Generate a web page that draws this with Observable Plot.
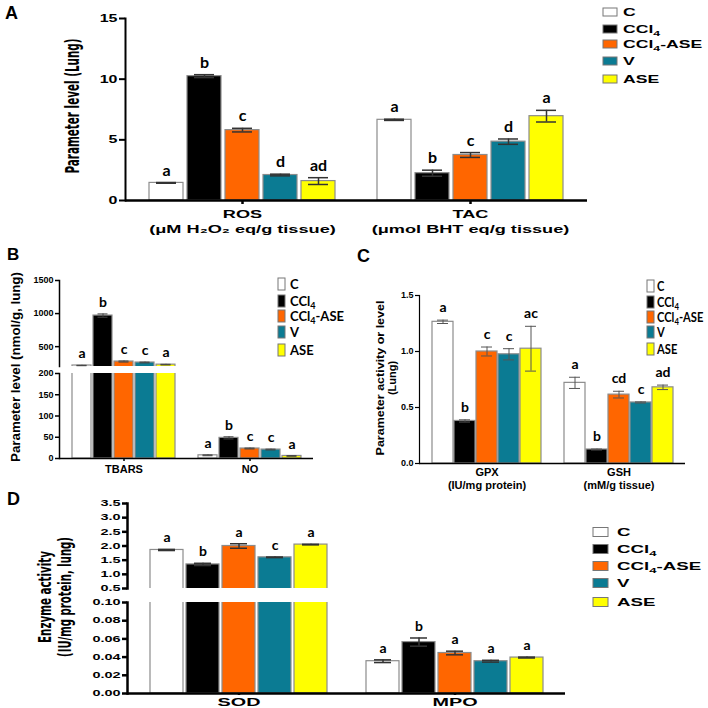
<!DOCTYPE html>
<html><head><meta charset="utf-8">
<script src="https://cdn.jsdelivr.net/npm/d3@7"></script>
<script src="https://cdn.jsdelivr.net/npm/@observablehq/plot@0.6"></script>
<style>
html,body{margin:0;padding:0;background:#fff;}
#root{position:relative;width:708px;height:708px;overflow:hidden;background:#fff;}
.panel{position:absolute;}
.panel svg{background:transparent !important;overflow:visible;}
#overlay{position:absolute;left:0;top:0;pointer-events:none;}
</style></head><body><div id="root"></div>
<script>
// ---------- data ----------
const groups = ["C", "CCl₄", "CCl₄-ASE", "V", "ASE"];
const groupColors = ["#ffffff", "#000000", "#ff6600", "#0b7b93", "#ffff00"];

// Panel A
const aParams = ["ROS", "TAC"];
const aParamLabels = ["ROS\n(μM H₂O₂ eq/g tissue)", "TAC\n(μmol BHT eq/g tissue)"];
const aROS = [1.45, 10.25, 5.8, 2.1, 1.6];
const aROSerr = [0.03, 0.12, 0.15, 0.07, 0.28];
const aROSlet = ["a", "b", "c", "d", "ad"];
const aTAC = [6.65, 2.25, 3.75, 4.85, 6.95];
const aTACerr = [0.05, 0.25, 0.2, 0.22, 0.48];
const aTAClet = ["a", "b", "c", "d", "a"];
const aTicks = [0, 5, 10, 15];

// Panel B (broken axis)
const bParams = ["TBARS", "NO"];
const bParamLabels = ["TBARS", "NO"];
const bTBARS = [215, 970, 275, 260, 228];
const bTBARSerr = [3, 25, 8, 6, 5];
const bTBARSlet = ["a", "b", "c", "c", "a"];
const bNO = [7.5, 48.5, 23.5, 21, 6];
const bNOerr = [1, 2.5, 1, 1, 0.8];
const bNOlet = ["a", "b", "c", "c", "a"];
const bUpperTicks = [500, 1000, 1500];
const bLowerTicks = [0, 50, 100, 150, 200];

// Panel C
const cParams = ["GPX", "GSH"];
const cParamLabels = ["GPX\n(IU/mg protein)", "GSH\n(mM/g tissue)"];
const cGPX = [1.265, 0.38, 1.0, 0.975, 1.025];
const cGPXerr = [0.015, 0.01, 0.04, 0.05, 0.2];
const cGPXlet = ["a", "b", "c", "c", "ac"];
const cGSH = [0.72, 0.125, 0.615, 0.545, 0.68];
const cGSHerr = [0.05, 0.004, 0.03, 0.005, 0.02];
const cGSHlet = ["a", "b", "cd", "c", "ad"];
const cTicks = [0, 0.5, 1.0, 1.5];

// Panel D (broken axis)
const dParams = ["SOD", "MPO"];
const dParamLabels = ["SOD", "MPO"];
const dSOD = [1.86, 1.35, 2.0, 1.6, 2.05];
const dSODerr = [0.02, 0.04, 0.08, 0.01, 0.01];
const dSODlet = ["a", "b", "a", "c", "a"];
const dMPO = [0.0355, 0.0565, 0.0445, 0.0355, 0.0395];
const dMPOerr = [0.0015, 0.0045, 0.002, 0.001, 0.0005];
const dMPOlet = ["a", "b", "a", "a", "a"];
const dUpperTicks = [0.5, 1.0, 1.5, 2.0, 2.5, 3.0, 3.5];
const dLowerTicks = [0, 0.02, 0.04, 0.06, 0.08, 0.10];

// ---------- helpers ----------
function rows(param, vals, errs, lets) {
  return groups.map((g, i) => ({param, group: g, key: param + "|" + g, value: vals[i],
    lo: vals[i] - errs[i], hi: vals[i] + errs[i], letter: lets[i]}));
}
function slotsFor(params) {
  const s = [];
  params.forEach((p, j) => { if (j) s.push("gap"); groups.forEach(g => s.push(p + "|" + g)); });
  return s;
}
function stretchTexts(root, selector, factor) {
  root.querySelectorAll(selector).forEach(t => {
    const parts = t.querySelectorAll("tspan");
    const els = parts.length ? Array.from(parts) : [t];
    els.forEach(e => {
      const L = e.getComputedTextLength();
      if (L > 0) { e.setAttribute("textLength", (L * factor).toFixed(1)); e.setAttribute("lengthAdjust", "spacingAndGlyphs"); }
    });
  });
}
const root = document.getElementById("root");
const SANS = "Liberation Sans, Arial, sans-serif";

function makePanel(o) {
  const [y0, y1] = o.yDomain;
  const data = o.data;
  const inSeg = data.filter(d => d.value >= y0 && d.value <= y1);
  const barRows = data.filter(d => d.value > y0);
  const midKeys = o.params.map(p => p + "|" + groups[2]);
  const errStyle = {stroke: o.errColor, strokeWidth: o.errW};
  const marks = [
    Plot.barY(barRows, {x: "key", y1: 0, y2: "value", fill: "group", stroke: "#8c8c8c", strokeWidth: 1.2, clip: true}),
    Plot.ruleX(inSeg, {x: "key", y1: "lo", y2: "hi", ...errStyle}),
    Plot.tickY(inSeg, {x: "key", y: "hi", inset: o.capInset, ...errStyle}),
    Plot.tickY(inSeg, {x: "key", y: "lo", inset: o.capInset, ...errStyle}),
    Plot.text(inSeg, {x: "key", y: "hi", text: "letter", lineAnchor: "bottom", dy: o.letDy,
      fontFamily: "Lato, Open Sans, sans-serif", fontWeight: "bold", fontSize: o.letSize, fill: "#000"}),
    Plot.axisY({ticks: o.ticks, tickFormat: o.fmt, tickSize: o.tickSize, tickPadding: o.tickPad,
      fontFamily: SANS, fontSize: o.tickFont, fontWeight: "bold", strokeWidth: o.axisW, label: null}),
    Plot.frame({anchor: "left", strokeWidth: o.axisW})
  ];
  if (o.xAxis) {
    marks.push(Plot.ruleY([y0], {strokeWidth: o.baseW}));
    marks.push(Plot.axisX({ticks: midKeys, tickFormat: k => o.paramLabels[o.params.indexOf(k.split("|")[0])],
      tickSize: o.xTickSize, tickPadding: o.xTickPad, fontFamily: SANS, fontSize: o.xFont, fontWeight: "bold",
      lineHeight: o.xLineHeight || 1.2, strokeWidth: o.baseW, label: null}));
  }
  const chart = Plot.plot({
    width: o.width, height: o.height,
    marginLeft: o.mL, marginRight: o.mR, marginTop: o.mT, marginBottom: o.mB,
    style: {background: "transparent", overflow: "visible", color: "#000"},
    x: {type: "band", domain: slotsFor(o.params), paddingInner: o.pi, paddingOuter: o.po, axis: null},
    y: {domain: o.yDomain, axis: null},
    color: {domain: groups, range: groupColors},
    marks
  });
  const div = document.createElement("div");
  div.className = "panel";
  div.style.left = o.left + "px"; div.style.top = o.top + "px";
  div.appendChild(chart);
  root.appendChild(div);
  if (o.yStretch) stretchTexts(chart, 'g[aria-label="y-axis tick label"] text', o.yStretch);
  if (o.xStretch) stretchTexts(chart, 'g[aria-label="x-axis tick label"] text', o.xStretch);
  return chart;
}

const aData = [...rows("ROS", aROS, aROSerr, aROSlet), ...rows("TAC", aTAC, aTACerr, aTAClet)];
const bData = [...rows("TBARS", bTBARS, bTBARSerr, bTBARSlet), ...rows("NO", bNO, bNOerr, bNOlet)];
const cData = [...rows("GPX", cGPX, cGPXerr, cGPXlet), ...rows("GSH", cGSH, cGSHerr, cGSHlet)];
const dData = [...rows("SOD", dSOD, dSODerr, dSODlet), ...rows("MPO", dMPO, dMPOerr, dMPOlet)];

// Panel A
makePanel({data: aData, params: aParams, paramLabels: aParamLabels, left: 0, top: 0, width: 600, height: 240,
  mL: 125, mR: 13, mT: 18, mB: 40, yDomain: [0, 15], ticks: aTicks, fmt: d => String(d),
  tickSize: 6, tickPad: 2, tickFont: 11, axisW: 2, yStretch: 1.45,
  xAxis: true, baseW: 2.5, xTickSize: 4, xTickPad: 3, xFont: 11, xLineHeight: 1.36, xStretch: 1.65,
  pi: 0.115, po: 0.57, errColor: "#333", errW: 1.5, capInset: 7, letSize: 16, letDy: -7});

// Panel B upper / lower
makePanel({data: bData, params: bParams, paramLabels: bParamLabels, left: 0, top: 270, width: 330, height: 100,
  mL: 59, mR: 17, mT: 10, mB: 4, yDomain: [200, 1500], ticks: bUpperTicks, fmt: d3.format("d"),
  tickSize: 4, tickPad: 2, tickFont: 9, axisW: 1.5, xAxis: false,
  pi: 0.104, po: 0.54, errColor: "#444", errW: 1, capInset: 4.5, letSize: 14, letDy: -7});
makePanel({data: bData, params: bParams, paramLabels: bParamLabels, left: 0, top: 362, width: 330, height: 130,
  mL: 59, mR: 17, mT: 11, mB: 34, yDomain: [0, 200], ticks: bLowerTicks, fmt: d3.format("d"),
  tickSize: 4, tickPad: 2, tickFont: 9, axisW: 1.5,
  xAxis: true, baseW: 1.5, xTickSize: 3, xTickPad: 2, xFont: 11,
  pi: 0.104, po: 0.54, errColor: "#444", errW: 1, capInset: 4.5, letSize: 14, letDy: -7});

// Panel C
makePanel({data: cData, params: cParams, paramLabels: cParamLabels, left: 370, top: 280, width: 330, height: 220,
  mL: 49, mR: 15, mT: 15, mB: 37, yDomain: [0, 1.5], ticks: cTicks, fmt: d3.format(".1f"),
  tickSize: 4, tickPad: 2, tickFont: 9, axisW: 1.2,
  xAxis: true, baseW: 1.5, xTickSize: 0, xTickPad: 4, xFont: 11, xLineHeight: 1.15,
  pi: 0.056, po: 0.5, errColor: "#555", errW: 1, capInset: 5, letSize: 14, letDy: -8});

// Panel D upper / lower
makePanel({data: dData, params: dParams, paramLabels: dParamLabels, left: 0, top: 490, width: 580, height: 100,
  mL: 127, mR: 15, mT: 13, mB: 2, yDomain: [0.5, 3.5], ticks: dUpperTicks, fmt: d3.format(".1f"),
  tickSize: 5, tickPad: 2, tickFont: 8.5, axisW: 2.5, yStretch: 1.7, xAxis: false,
  pi: 0.093, po: 0.47, errColor: "#333", errW: 1.5, capInset: 8, letSize: 14, letDy: -7});
makePanel({data: dData, params: dParams, paramLabels: dParamLabels, left: 0, top: 592, width: 580, height: 116,
  mL: 127, mR: 15, mT: 10, mB: 15, yDomain: [0, 0.10], ticks: dLowerTicks, fmt: d3.format(".2f"),
  tickSize: 5, tickPad: 2, tickFont: 8.5, axisW: 2.5, yStretch: 1.7,
  xAxis: true, baseW: 2.5, xTickSize: 2, xTickPad: 1, xFont: 11, xStretch: 1.8,
  pi: 0.093, po: 0.47, errColor: "#333", errW: 1.5, capInset: 8, letSize: 14, letDy: -7});

// ---------- overlay: titles, panel letters, legends ----------
const svg = d3.select(root).append("svg").attr("id", "overlay").attr("width", 708).attr("height", 708);

function label(x, y, str, o = {}) {
  const size = o.size || 12;
  const t = svg.append("text").attr("x", 0).attr("y", 0)
    .attr("font-family", o.family || SANS).attr("font-size", size)
    .attr("font-weight", o.weight || "bold").attr("text-anchor", o.anchor || "start")
    .attr("dominant-baseline", o.baseline || "auto").attr("fill", o.fill || "#000");
  appendSub(t, str, size);
  let sx = 1;
  const L = t.node().getComputedTextLength();
  if (o.fit && L > 0) sx = o.fit / L;
  if (o.stretch) sx = o.stretch;
  t.attr("transform", `translate(${x},${y}) rotate(${o.rotate || 0}) scale(${sx.toFixed(3)},1)`);
  return t;
}
function appendSub(t, str, size) {
  const parts = str.split("₄");
  parts.forEach((p, i) => {
    if (i > 0) t.append("tspan").attr("font-size", size * 0.7).attr("dy", size * 0.25).text("4");
    const s = t.append("tspan").text(p);
    if (i > 0) s.attr("dy", -size * 0.25);
  });
}
function legend(o) {
  groups.forEach((g, i) => {
    const cy = o.rows[i];
    svg.append("rect").attr("x", o.x).attr("y", cy - o.sh / 2).attr("width", o.sw).attr("height", o.sh)
      .attr("fill", groupColors[i]).attr("stroke", "#777").attr("stroke-width", 1);
    label(o.tx, cy + o.size * 0.36, g, {size: o.size, family: o.family, weight: o.weight, stretch: o.stretch});
  });
}

// panel letters
label(5, 19, "A", {size: 18});
label(7, 260, "B", {size: 17});
label(357, 262, "C", {size: 18});
label(7, 505, "D", {size: 18});

// y-axis titles
const NARROW = "Liberation Sans Narrow, DejaVu Sans Condensed, sans-serif";
label(72, 106, "Parameter level (Lung)", {rotate: -90, anchor: "middle", baseline: "central", size: 19, family: NARROW, fit: 135});
label(16, 367, "Parameter level (nmol/g, lung)", {rotate: -90, anchor: "middle", baseline: "central", size: 12, fit: 190});
label(379, 378, "Parameter activity or level", {rotate: -90, anchor: "middle", baseline: "central", size: 11, fit: 155});
label(392, 378, "(Lung)", {rotate: -90, anchor: "middle", baseline: "central", size: 11});
label(45, 597, "Enzyme activity", {rotate: -90, anchor: "middle", baseline: "central", size: 17, family: NARROW, fit: 92});
label(65, 597, "(IU/mg protein, lung)", {rotate: -90, anchor: "middle", baseline: "central", size: 17, family: NARROW, fit: 120});

// legends
legend({x: 603, sw: 14, sh: 8, tx: 623, rows: [12, 29, 44, 61, 79], size: 11, family: SANS, weight: "bold", stretch: 1.6});
legend({x: 278, sw: 7, sh: 12, tx: 290, rows: [284, 301, 316, 332, 350], size: 13, family: "Lato, sans-serif", weight: "bold"});
legend({x: 647, sw: 7, sh: 12, tx: 657, rows: [286, 302, 317, 332, 349], size: 13, family: "Lato, sans-serif", weight: "bold", stretch: 0.86});
legend({x: 593, sw: 15, sh: 9, tx: 617, rows: [532, 549, 566, 583, 602], size: 11, family: SANS, weight: "bold", stretch: 1.7});
</script></body></html>
